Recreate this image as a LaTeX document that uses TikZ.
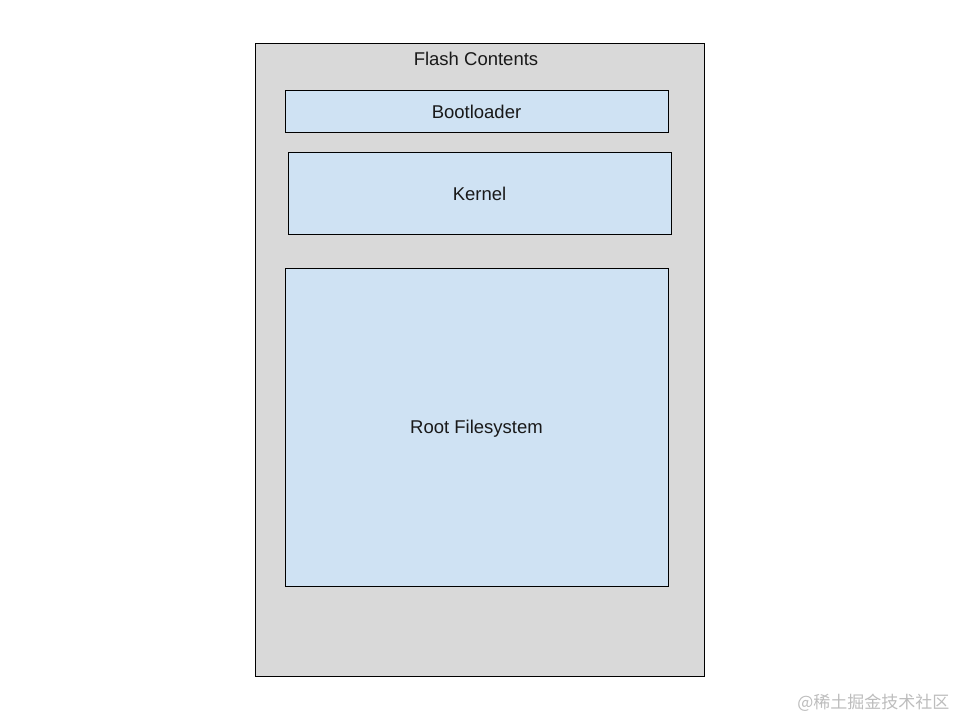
\documentclass[tikz,border=0pt]{standalone}
\usepackage{fontspec}
\setmainfont{Liberation Sans}
\newfontfamily\cjk{Noto Sans CJK SC}
\definecolor{flashgray}{HTML}{D9D9D9}
\definecolor{partblue}{HTML}{CFE2F3}
\definecolor{wmgray}{HTML}{BDBDBD}
\begin{document}
\begin{tikzpicture}[x=1pt,y=-1pt,
  box/.style={draw=black,line width=1pt},
  lbl/.style={font=\fontsize{18.5}{22}\selectfont,text=black!90}]
\useasboundingbox (0,0) rectangle (960,720);
\fill[white] (0,0) rectangle (960,720);
\draw[box,fill=flashgray] (255,43) rectangle (704,676);
\node[lbl] (flash) at (476,59) {Flash Contents};
\draw[box,fill=partblue] (285,90) rectangle (668,132);
\node[lbl] (boot) at (476.5,111.5) {Bootloader};
\draw[box,fill=partblue] (288,152) rectangle (671,234);
\node[lbl] (kernel) at (479.5,193.5) {Kernel};
\draw[box,fill=partblue] (285,268) rectangle (668,586);
\node[lbl] (rootfs) at (476.5,428.5) {Root Filesystem};
\node[font=\cjk\fontsize{17}{20}\selectfont,text=wmgray,anchor=east] (wm) at (953,703) {@稀土掘金技术社区};
\end{tikzpicture}
\end{document}
